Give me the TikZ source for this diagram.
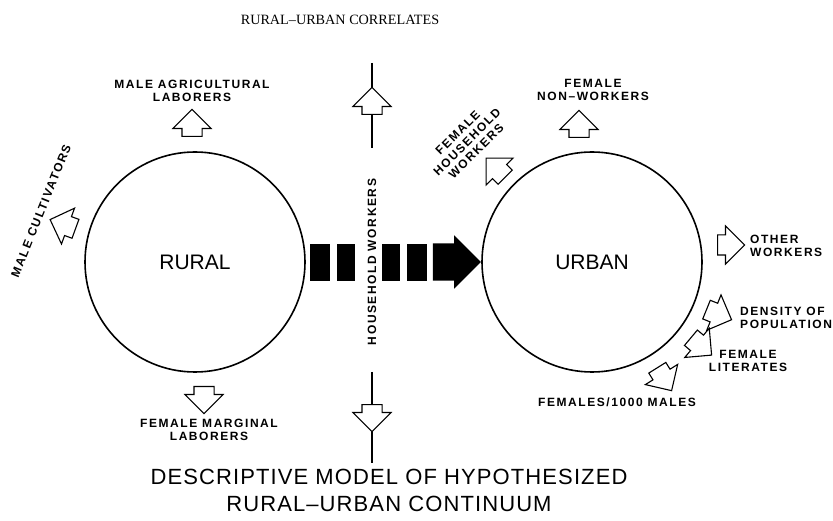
\documentclass[tikz,border=0pt]{standalone}
\usepackage{fontspec}
\setmainfont{Liberation Serif}
\newfontfamily\lblfam{Liberation Sans}[Ligatures=TeX,LetterSpace=13]
\newfontfamily\placefam{Liberation Sans}[Ligatures=TeX]
\newfontfamily\titlefam{Liberation Sans}[Ligatures=TeX,LetterSpace=5]
\usetikzlibrary{shapes.arrows}

\tikzset{
  lbl/.style={font=\lblfam\bfseries\fontsize{12}{13}\selectfont, align=center, inner sep=0pt},
  place/.style={circle, draw, line width=1.6pt, minimum size=220pt, inner sep=0pt,
    font=\placefam\fontsize{21}{21}\selectfont},
  outarrow/.style={single arrow, draw, fill=white, line width=1.1pt, inner xsep=0pt, inner ysep=9.5pt,
    minimum height=27pt, single arrow head extend=9pt, anchor=tail},
  bigarrow/.style={single arrow, fill=black, inner xsep=0pt, inner ysep=18.5pt,
    minimum height=48pt, single arrow head extend=8pt},
  vline/.style={line width=1.1pt}
}

\begin{document}
\begin{tikzpicture}[x=1pt,y=1pt]
\useasboundingbox (0,0) rectangle (833,-521);

% titles
\node[font=\fontsize{14.2}{16}\selectfont] (head) at (340,-20) {RURAL--URBAN CORRELATES};
\node[font=\titlefam\fontsize{22}{27}\selectfont, align=center] (foot) at (389,-490)
  {DESCRIPTIVE MODEL OF HYPOTHESIZED\\RURAL--URBAN CONTINUUM};

% the two places
\node[place] (rural) at (195,-262) {RURAL};
\node[place] (urban) at (592,-262) {URBAN};

% household workers axis
\coordinate (hh-a) at (372,-63);
\coordinate (hh-b) at (372,-148);
\coordinate (hh-c) at (372,-372);
\coordinate (hh-d) at (372,-463);
\draw[vline] (hh-a) -- (hh-b);
\draw[vline] (hh-c) -- (hh-d);
\node[outarrow, rotate=90] (a-hhup) at (372,-115) {};
\node[outarrow, rotate=-90] (a-hhdn) at (372,-404) {};
\node[lbl, rotate=90] (t-hh) at (372,-262) {HOUSEHOLD WORKERS};

% flow rural -> urban
\foreach \xa/\xb in {310/330,337/355,382/400,407/427}
  \fill (\xa,-244) rectangle (\xb,-281);
\node[bigarrow, anchor=tip] (flow) at (urban.west) {};

% rural correlates
\node[outarrow, rotate=90] (a-agri) at (192,-137) {};
\node[lbl] (t-agri) at (192,-91) {MALE AGRICULTURAL\\LABORERS};
\node[outarrow, rotate=160] (a-cult) at (76,-229) {};
\node[lbl, rotate=68] (t-cult) at (41,-211) {MALE CULTIVATORS};
\node[outarrow, rotate=-90] (a-marg) at (204,-386) {};
\node[lbl] (t-marg) at (209,-430) {FEMALE MARGINAL\\LABORERS};

% urban correlates
\node[outarrow, rotate=90] (a-nonw) at (579,-138) {};
\node[lbl] (t-nonw) at (593,-90) {FEMALE\\NON--WORKERS};
\node[outarrow, rotate=135] (a-fhh) at (505.6,-177.6) {};
\node[lbl, rotate=45] (t-fhh) at (467,-142) {FEMALE\\HOUSEHOLD\\WORKERS};
\node[outarrow] (a-oth) at (717,-245) {};
\node[lbl, align=left, anchor=west] (t-oth) at (750,-246) {OTHER\\WORKERS};
\node[outarrow, rotate=-22] (a-dens) at (706,-309.4) {};
\node[lbl, align=left, anchor=west] (t-dens) at (740,-318) {DENSITY OF\\POPULATION};
\node[outarrow, rotate=-40] (a-lit) at (690.5,-337.4) {};
\node[lbl] (t-lit) at (748,-361) {FEMALE\\LITERATES};
\node[outarrow, rotate=-58] (a-fem) at (657,-367.3) {};
\node[lbl] (t-fem) at (617,-402) {FEMALES/1000 MALES};
\end{tikzpicture}
\end{document}
